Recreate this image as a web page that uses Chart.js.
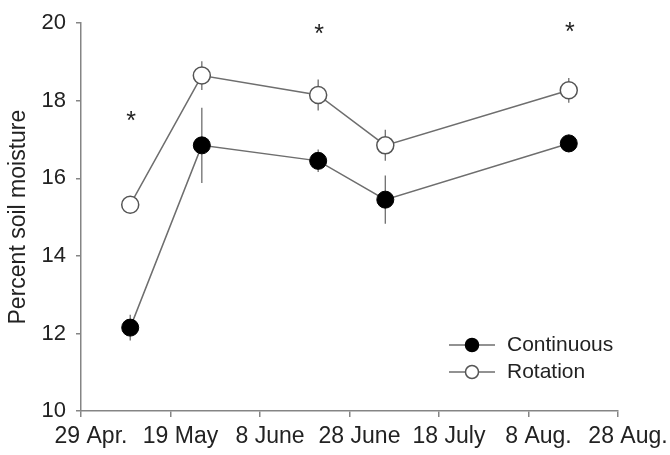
<!DOCTYPE html>
<html lang="en">
<head>
<meta charset="UTF-8" />
<title>Percent soil moisture</title>
<style>
  html, body { margin: 0; padding: 0; background: #fff; }
  #wrap { width: 670px; height: 455px; }
</style>
</head>
<body>
<div id="wrap"><canvas id="moistureChart" width="670" height="455"></canvas></div>
<script src="https://cdn.jsdelivr.net/npm/chart.js"></script>
<script>
  // sampling dates, as days after 29 April
  const sampleDays = [11, 27, 53, 68, 109];
  const tickLabels = ["29 Apr.", "19 May", "8 June", "28 June", "18 July", "8 Aug.", "28 Aug."];
  const continuous = [12.15, 16.85, 16.45, 15.45, 16.9];
  const continuousErr = [0.33, 0.97, 0.29, 0.62, 0.23];
  const rotation = [15.32, 18.65, 18.15, 16.85, 18.27];
  const rotationErr = [0.15, 0.37, 0.4, 0.4, 0.32];
  // significance stars
  const starDays = [11, 53, 109];
  const starValues = [17.45, 19.7, 19.75];

  const axisGrey = "#858585";
  const lineGrey = "#6e6e6e";
  const textColor = "#222";
  const fontFamily = "'Liberation Sans', Arial, sans-serif";

  const toPoints = (vals) => vals.map((v, i) => ({ x: sampleDays[i], y: v }));

  const errorBars = {
    id: "errorBars",
    beforeDatasetsDraw(chart) {
      const { ctx, scales } = chart;
      ctx.save();
      ctx.strokeStyle = lineGrey;
      ctx.lineWidth = 1.3;
      chart.data.datasets.forEach((ds) => {
        ds.data.forEach((p, i) => {
          const e = ds.errors[i];
          const x = scales.x.getPixelForValue(p.x);
          ctx.beginPath();
          ctx.moveTo(x, scales.y.getPixelForValue(p.y - e));
          ctx.lineTo(x, scales.y.getPixelForValue(p.y + e));
          ctx.stroke();
        });
      });
      ctx.restore();
    },
  };

  const stars = {
    id: "stars",
    afterDatasetsDraw(chart) {
      const { ctx, scales } = chart;
      ctx.save();
      ctx.fillStyle = textColor;
      ctx.font = "25px " + fontFamily;
      ctx.textAlign = "center";
      ctx.textBaseline = "alphabetic";
      starDays.forEach((d, i) => {
        const x = scales.x.getPixelForValue(d);
        const y = scales.y.getPixelForValue(starValues[i]);
        ctx.fillText("*", x + 1, y + 7);
      });
      ctx.restore();
    },
  };

  const innerLegend = {
    id: "innerLegend",
    afterDraw(chart) {
      const { ctx, chartArea } = chart;
      ctx.save();
      ctx.font = "21px " + fontFamily;
      ctx.textBaseline = "middle";
      ctx.textAlign = "left";
      chart.data.datasets.forEach((ds, i) => {
        const y = chartArea.bottom - 66 + i * 27;
        const x0 = chartArea.right - 169;
        ctx.strokeStyle = lineGrey;
        ctx.lineWidth = 1.5;
        ctx.beginPath();
        ctx.moveTo(x0, y);
        ctx.lineTo(x0 + 46, y);
        ctx.stroke();
        ctx.beginPath();
        ctx.arc(x0 + 23, y, 6.5, 0, Math.PI * 2);
        ctx.fillStyle = ds.pointBackgroundColor;
        ctx.fill();
        ctx.strokeStyle = ds.pointBorderColor;
        ctx.stroke();
        ctx.fillStyle = textColor;
        ctx.fillText(ds.label, x0 + 58, y);
      });
      ctx.restore();
    },
  };

  const ctx = document.getElementById("moistureChart").getContext("2d");
  const moistureChart = new Chart(ctx, {
    type: "line",
    data: {
      datasets: [
        {
          label: "Continuous",
          data: toPoints(continuous),
          errors: continuousErr,
          borderColor: lineGrey,
          borderWidth: 1.5,
          pointRadius: 8.5,
          pointBackgroundColor: "#000",
          pointBorderColor: "#000",
          pointBorderWidth: 1,
          tension: 0,
        },
        {
          label: "Rotation",
          data: toPoints(rotation),
          errors: rotationErr,
          borderColor: lineGrey,
          borderWidth: 1.5,
          pointRadius: 8.5,
          pointBackgroundColor: "#fff",
          pointBorderColor: "#555",
          pointBorderWidth: 1.5,
          tension: 0,
        },
      ],
    },
    options: {
      responsive: false,
      animation: false,
      layout: { padding: { left: 0, right: 52, top: 20, bottom: 0 } },
      plugins: { legend: { display: false }, tooltip: { enabled: false } },
      scales: {
        x: {
          type: "linear",
          min: 0,
          max: 120,
          afterFit: (axis) => { axis.height = 44; },
          border: { color: axisGrey, width: 1.5 },
          grid: { drawOnChartArea: false, tickLength: 6, color: axisGrey, lineWidth: 1.5 },
          ticks: {
            stepSize: 20,
            color: textColor,
            font: { family: fontFamily, size: 23 },
            padding: 6,
            labelOffset: 10,
            maxRotation: 0,
            autoSkip: false,
            callback: (v) => tickLabels[v / 20],
          },
        },
        y: {
          min: 10,
          max: 20,
          afterFit: (axis) => { axis.width = 81; },
          border: { color: axisGrey, width: 1.5 },
          grid: { drawOnChartArea: false, tickLength: 5, color: axisGrey, lineWidth: 1.5 },
          ticks: {
            stepSize: 2,
            color: textColor,
            font: { family: fontFamily, size: 22 },
            padding: 10,
          },
          title: {
            display: true,
            text: "Percent soil moisture",
            color: textColor,
            font: { family: fontFamily, size: 23 },
            padding: { top: 5, bottom: 0 },
          },
        },
      },
    },
    plugins: [errorBars, stars, innerLegend],
  });
</script>
</body>
</html>
